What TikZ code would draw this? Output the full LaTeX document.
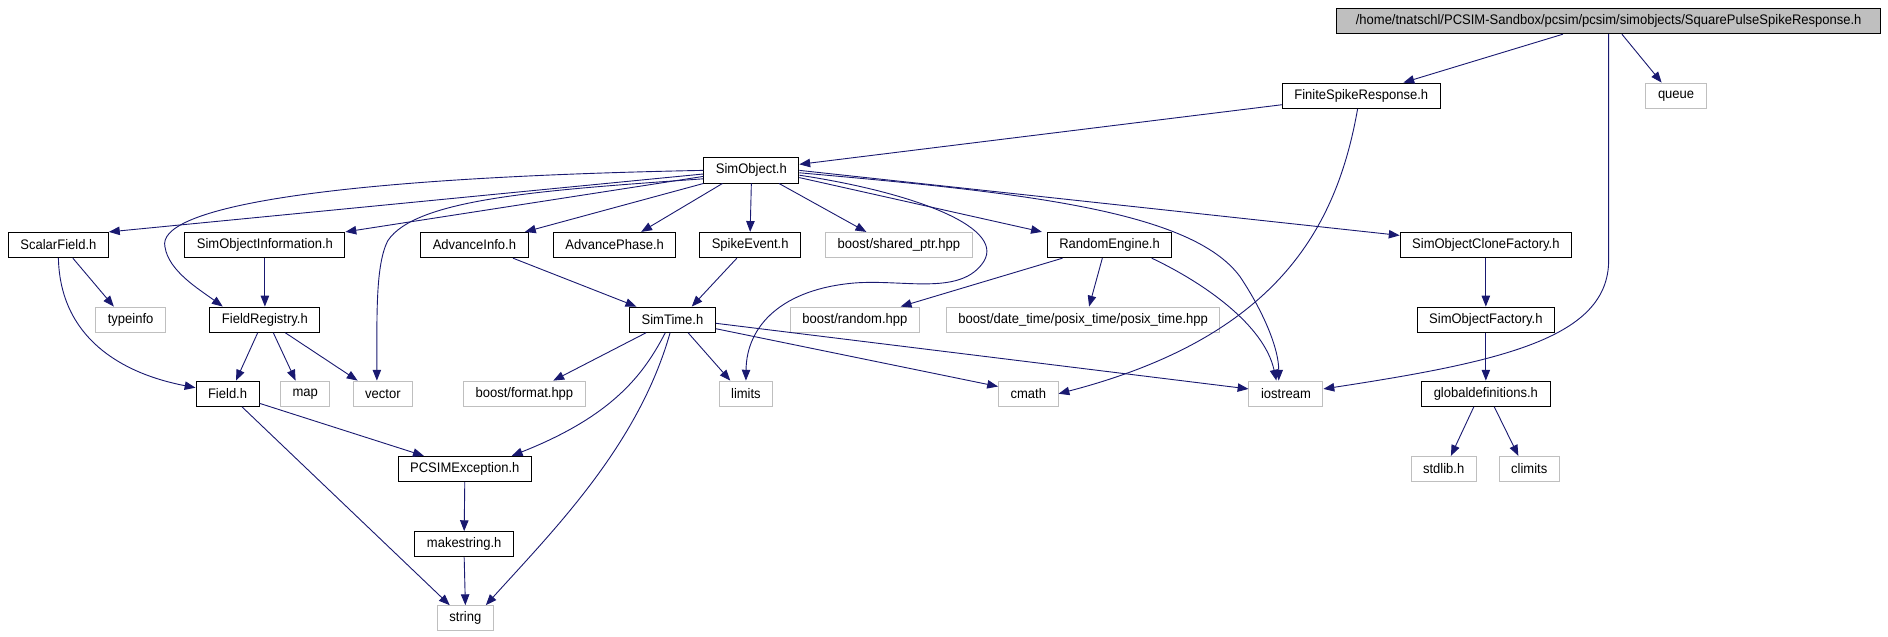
\documentclass[tikz,border=0pt]{standalone}
\usepackage{fontspec}
\setmainfont{Liberation Sans}[FakeStretch=0.94]
\usepackage{tikz}
\usetikzlibrary{arrows.meta, positioning}
\definecolor{edgeblue}{HTML}{191970}
\definecolor{extgray}{HTML}{BFBFBF}

\begin{document}
\begin{tikzpicture}[x=1pt, y=-1pt,
        hdrnode/.style={rectangle, draw=black, fill=white, line width=0.8pt, minimum height=21pt,
            inner xsep=10pt, inner ysep=0pt, font=\fontsize{11.5}{13}\selectfont},
        extnode/.style={hdrnode, draw=extgray},
        rootnode/.style={hdrnode, fill=extgray, minimum width=452pt},
        incl/.style={draw=edgeblue, line width=0.75pt, -{Triangle[length=9pt,width=7pt]}}]
        \useasboundingbox (0,0) rectangle (1568,529);
            \node[rootnode] (root) at (1336,17.5) {/home/tnatschl/PCSIM-Sandbox/pcsim/pcsim/simobjects/SquarePulseSpikeResponse.h};

            \node[hdrnode] (fsr) at (1130.5,79.5) {FiniteSpikeResponse.h};
            \node[extnode] (queue) at (1392,79.5) {queue};

            \node[hdrnode] (simobject) at (624,141.5) {SimObject.h};

            \node[hdrnode] (scalarfield) at (48.5,203.5) {ScalarField.h};
            \node[hdrnode] (simobjinfo) at (220,203.5) {SimObjectInformation.h};
            \node[hdrnode] (advinfo) at (394,203.5) {AdvanceInfo.h};
            \node[hdrnode] (advphase) at (510.5,203.5) {AdvancePhase.h};
            \node[hdrnode] (spikeevent) at (623,203.5) {SpikeEvent.h};
            \node[extnode] (sharedptr) at (746.5,203.5) {boost/shared\_ptr.hpp};
            \node[hdrnode] (randeng) at (921.5,203.5) {RandomEngine.h};
            \node[hdrnode] (clonefac) at (1234,203.5) {SimObjectCloneFactory.h};

            \node[extnode] (typeinfo) at (108.5,265.5) {typeinfo};
            \node[hdrnode] (fieldreg) at (220,265.5) {FieldRegistry.h};
            \node[hdrnode] (simtime) at (558.5,265.5) {SimTime.h};
            \node[extnode] (random) at (710,265.5) {boost/random.hpp};
            \node[extnode] (posix) at (899.5,265.5) {boost/date\_time/posix\_time/posix\_time.hpp};
            \node[hdrnode] (objfac) at (1234,265.5) {SimObjectFactory.h};

            \node[hdrnode] (field) at (189,327) {Field.h};
            \node[extnode] (map) at (253.5,327) {map};
            \node[extnode] (vector) at (318,327) {vector};
            \node[extnode] (format) at (435.5,327) {boost/format.hpp};
            \node[extnode] (limits) at (619.5,327) {limits};
            \node[extnode] (cmath) at (854,327) {cmath};
            \node[extnode] (iostream) at (1068,327) {iostream};
            \node[hdrnode] (globaldef) at (1234,327) {globaldefinitions.h};

            \node[hdrnode] (pcsimexc) at (386,389.5) {PCSIMException.h};
            \node[extnode] (stdlib) at (1199,389.5) {stdlib.h};
            \node[extnode] (climits) at (1270,389.5) {climits};

            \node[hdrnode] (makestring) at (385.5,452) {makestring.h};
            \node[extnode] (string) at (386.5,513.5) {string};

            % includes of the root header
            \draw[incl] ([xshift=-38pt]root.south) -- ([xshift=35pt]fsr.north);
            \draw[incl] ([xshift=11pt]root.south) -- ([xshift=-12pt]queue.north);
            \draw[incl] (root.south) -- (1336,216) .. controls (1336,280) and (1250,300) .. ([yshift=4pt]iostream.east);

            \draw[incl] ([yshift=-7.5pt]fsr.west) -- ([yshift=5pt]simobject.east);
            \draw[incl] ([xshift=-3pt]fsr.south) .. controls (1110,190) and (1060,280) .. (cmath.east);

            % SimObject.h
            \draw[incl] ([yshift=-3pt]simobject.west) -- (scalarfield.north east);
            \draw[incl] (simobject.west) .. controls (250,148) and (130,175) .. (137,205)
                .. controls (140,225) and (165,240) .. ([xshift=-35pt]fieldreg.north);
            \draw[incl] ([yshift=-5pt]simobject.west) -- (simobjinfo.north east);
            \draw[incl] ([yshift=-7pt]simobject.west) .. controls (450,158) and (345,165) .. (322,200)
                .. controls (312,220) and (313,260) .. ([xshift=-5pt]vector.north);
            \draw[incl] (simobject.south west) -- ([xshift=-3pt]advinfo.north east);
            \draw[incl] ([xshift=-24pt]simobject.south) -- ([xshift=22pt]advphase.north);
            \draw[incl] (simobject.south) -- (spikeevent.north);
            \draw[incl] ([xshift=23pt]simobject.south) -- ([xshift=-27pt]sharedptr.north);
            \draw[incl] ([yshift=-4pt]simobject.east) .. controls (760,160) and (840,190) .. (815,220)
                .. controls (795,245) and (750,232) .. (710,235)
                .. controls (650,240) and (620,270) .. (limits.north);
            \draw[incl] ([yshift=-6pt]simobject.east) -- ([xshift=-4pt]randeng.north west);
            \draw[incl] ([yshift=-2pt]simobject.east) .. controls (850,160) and (990,175) .. (1030,230)
                .. controls (1050,260) and (1062,290) .. ([xshift=-6pt]iostream.north);
            \draw[incl] (simobject.east) -- ([yshift=8pt]clonefac.west);

            % second row
            \draw[incl] ([xshift=12pt]scalarfield.south) -- ([xshift=-14pt]typeinfo.north);
            \draw[incl] (scalarfield.south) .. controls (50,280) and (100,310) .. ([yshift=5pt]field.west);
            \draw[incl] (simobjinfo.south) -- (fieldreg.north);
            \draw[incl] ([xshift=32pt]advinfo.south) -- ([xshift=-30pt]simtime.north);
            \draw[incl] ([xshift=-11pt]spikeevent.south) -- ([xshift=16pt]simtime.north);
            \draw[incl] ([xshift=-39pt]randeng.south) -- ([xshift=38pt]random.north);
            \draw[incl] ([xshift=-6pt]randeng.south) -- ([xshift=5pt]posix.north);
            \draw[incl] ([xshift=35pt]randeng.south) .. controls (1000,235) and (1050,270) .. ([xshift=-8pt]iostream.north);
            \draw[incl] (clonefac.south) -- (objfac.north);

            % third row
            \draw[incl] (objfac.south) -- (globaldef.north);
            \draw[incl] ([xshift=-6pt]fieldreg.south) -- ([xshift=7pt]field.north);
            \draw[incl] ([xshift=7pt]fieldreg.south) -- ([xshift=-8pt]map.north);
            \draw[incl] ([xshift=17pt]fieldreg.south) -- ([xshift=-21pt]vector.north);
            \draw[incl] ([xshift=-22pt]simtime.south) -- ([xshift=24pt]format.north);
            \draw[incl] ([xshift=13pt]simtime.south) -- ([xshift=-13pt]limits.north);
            \draw[incl] ([yshift=-7.5pt]simtime.east) -- ([yshift=6pt]cmath.west);
            \draw[incl] ([yshift=-3pt]simtime.east) -- ([yshift=4pt]iostream.west);
            \draw[incl] ([xshift=-6pt]simtime.south) .. controls (535,310) and (510,345) .. ([xshift=39pt]pcsimexc.north);
            \draw[incl] ([xshift=-2pt]simtime.south) .. controls (530,370) and (460,440) .. ([xshift=17pt]string.north);

            % lower rows
            \draw[incl] ([xshift=-10pt]globaldef.south) -- ([xshift=6pt]stdlib.north);
            \draw[incl] ([xshift=7pt]globaldef.south) -- ([xshift=-9pt]climits.north);
            \draw[incl] ([yshift=-8pt]field.east) -- ([xshift=-34pt]pcsimexc.north);
            \draw[incl] ([xshift=12pt]field.south) -- ([xshift=-13pt]string.north);
            \draw[incl] (pcsimexc.south) -- (makestring.north);
            \draw[incl] (makestring.south) -- (string.north);
        \end{tikzpicture}
\end{document}
